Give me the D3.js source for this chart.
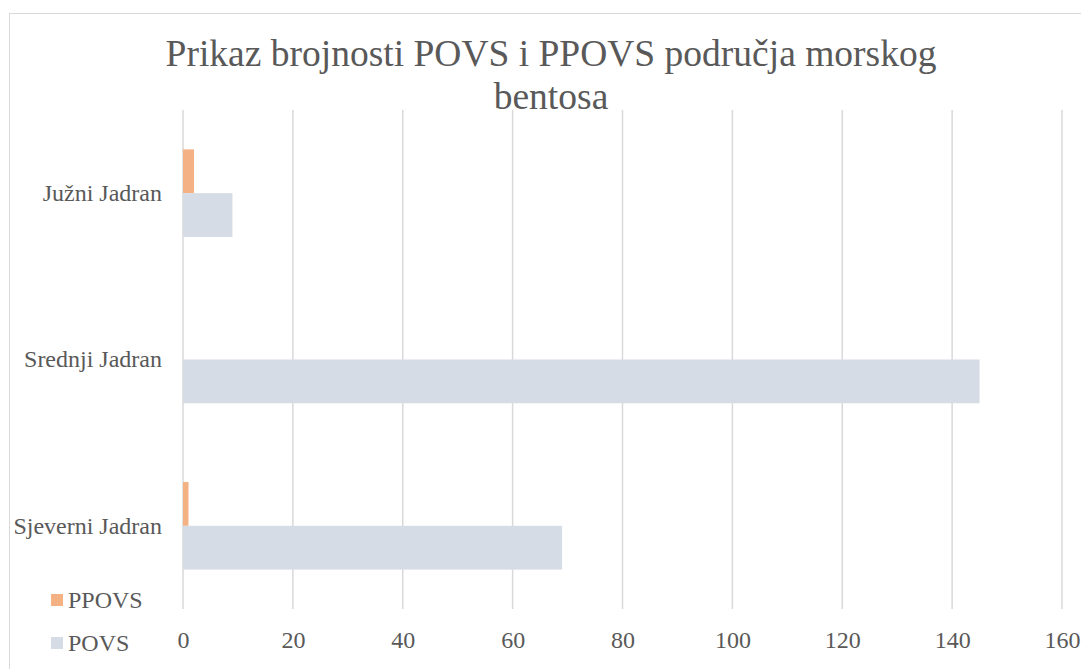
<!DOCTYPE html>
<html>
<head>
<meta charset="utf-8">
<script src="https://cdn.jsdelivr.net/npm/d3@7"></script>
<style>
  body { margin: 0; background: #fff; }
</style>
</head>
<body>
<div id="chart"></div>
<script>
// Data
var categories = ["Sjeverni Jadran", "Srednji Jadran", "Južni Jadran"];
var seriesNames = ["PPOVS", "POVS"];
var ppovs = [1, 0, 2];
var povs = [69, 145, 9];
var xTicks = [0, 20, 40, 60, 80, 100, 120, 140, 160];
var titleLines = ["Prikaz brojnosti POVS i PPOVS područja morskog", "bentosa"];
var colors = { PPOVS: "#F4B183", POVS: "#D6DCE5" };

var width = 1081, height = 669;
var margin = { top: 110, left: 183, right: 19, bottom: 60 };
var serif = "'Liberation Serif', 'Times New Roman', serif";
var textColor = "#595959";

var svg = d3.select("#chart").append("svg")
    .attr("width", width)
    .attr("height", height);

// chart frame (cropped on the right and bottom)
svg.append("rect")
    .attr("x", 9.5).attr("y", 13.5)
    .attr("width", 1100).attr("height", 700)
    .attr("fill", "none")
    .attr("stroke", "#D9D9D9")
    .attr("stroke-width", 1);

// Scales
var x = d3.scaleLinear()
    .domain([0, 160])
    .range([margin.left, width - margin.right]);

var y = d3.scaleBand()
    .domain(categories.slice().reverse())
    .range([margin.top, height - margin.bottom]);

var ySub = d3.scaleBand()
    .domain(seriesNames)
    .range([0, y.bandwidth()])
    .paddingOuter(0.9)
    .paddingInner(0);

// Gridlines
svg.append("g")
    .selectAll("line")
    .data(xTicks)
    .enter()
    .append("line")
    .attr("x1", function(d) { return x(d); })
    .attr("x2", function(d) { return x(d); })
    .attr("y1", margin.top)
    .attr("y2", height - margin.bottom)
    .attr("stroke", "#D9D9D9")
    .attr("stroke-width", 1.5);

// Bars
var rows = categories.map(function(c, i) {
    return { cat: c, values: [ { s: "PPOVS", v: ppovs[i] }, { s: "POVS", v: povs[i] } ] };
});

var groups = svg.append("g")
    .selectAll("g")
    .data(rows)
    .enter()
    .append("g")
    .attr("transform", function(d) { return "translate(0," + y(d.cat) + ")"; });

groups.selectAll("rect")
    .data(function(d) { return d.values; })
    .enter()
    .append("rect")
    .attr("x", x(0))
    .attr("y", function(d) { return ySub(d.s); })
    .attr("width", function(d) { return x(d.v) - x(0); })
    .attr("height", ySub.bandwidth())
    .attr("fill", function(d) { return colors[d.s]; });

// X axis labels
var xAxis = d3.axisBottom(x).tickValues(xTicks).tickSize(0).tickPadding(22);
var gx = svg.append("g")
    .attr("transform", "translate(0," + (height - margin.bottom) + ")")
    .call(xAxis);
gx.select(".domain").remove();
gx.selectAll("text")
    .style("font-size", "24px")
    .style("font-family", serif)
    .attr("fill", textColor);

// Y axis labels
var yAxis = d3.axisLeft(y).tickSize(0).tickPadding(21);
var gy = svg.append("g")
    .attr("transform", "translate(" + margin.left + ",0)")
    .call(yAxis);
gy.select(".domain").remove();
gy.selectAll("text")
    .style("font-size", "24px")
    .style("font-family", serif)
    .attr("fill", textColor);

// Title
svg.append("text")
    .attr("text-anchor", "middle")
    .style("font-size", "37.5px")
    .style("font-family", serif)
    .attr("fill", textColor)
    .selectAll("tspan")
    .data(titleLines)
    .enter()
    .append("tspan")
    .attr("x", 551)
    .attr("y", function(d, i) { return 66 + i * 43; })
    .text(function(d) { return d; });

// Legend
var legend = svg.append("g")
    .selectAll("g")
    .data(seriesNames)
    .enter()
    .append("g")
    .attr("transform", function(d, i) { return "translate(51," + (594 + i * 43) + ")"; });

legend.append("rect")
    .attr("width", 12)
    .attr("height", 12)
    .attr("fill", function(d) { return colors[d]; });

legend.append("text")
    .attr("x", 17)
    .attr("y", 14)
    .style("font-size", "24px")
    .style("font-family", serif)
    .attr("fill", textColor)
    .text(function(d) { return d; });
</script>
</body>
</html>
